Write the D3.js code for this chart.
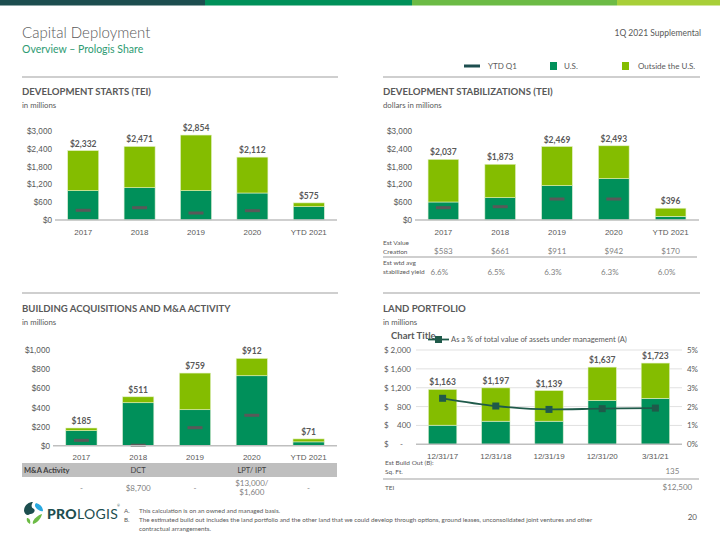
<!DOCTYPE html>
<html><head><meta charset="utf-8">
<script src="https://cdn.jsdelivr.net/npm/d3@7"></script>
<style>body{margin:0;background:#fff}svg{display:block;font-family:Lato,"Open Sans",sans-serif}</style>
</head><body><svg id="c" width="720" height="540"></svg>
<script>
// ---------- DATA ----------
const years = ["2017","2018","2019","2020","YTD 2021"];
const barTicks3000 = [0,600,1200,1800,2400,3000];
const barTickLabels3000 = ["$0","$600","$1,200","$1,800","$2,400","$3,000"];

const startsUS      = [985, 1085, 985, 907, 447];
const startsOutside = [1347, 1386, 1869, 1205, 128];
const startsTotal   = ["$2,332","$2,471","$2,854","$2,112","$575"];
const startsQ1      = [326, 413, 235, 313, null];

const stabUS      = [605, 750, 1153, 1389, 123];
const stabOutside = [1432, 1123, 1316, 1104, 273];
const stabTotal   = ["$2,037","$1,873","$2,469","$2,493","$396"];
const stabQ1      = [413, 447, 705, 705, null];
const estValue    = ["$583","$661","$911","$942","$170"];
const stabYield   = ["6.6%","6.5%","6.3%","6.3%","6.0%"];

const acqTicks = [0,200,400,600,800,1000];
const acqTickLabels = ["$0","$200","$400","$600","$800","$1,000"];
const acqUS      = [157, 449, 376, 731, 40];
const acqOutside = [28, 62, 383, 181, 31];
const acqTotal   = ["$185","$511","$759","$912","$71"];
const acqQ1      = [56, 5, 188, 318, null];
const maHeader   = ["", "DCT", "", "LPT/ IPT", ""];
const maValues   = [["-"], ["$8,700"], ["-"], ["$13,000/","$1,600"], ["-"]];

const landDates   = ["12/31/17","12/31/18","12/31/19","12/31/20","3/31/21"];
const landTicks   = [0,400,800,1200,1600,2000];
const landTickNums = ["-","400","800","1,200","1,600","2,000"];
const landPctTicks = [0,1,2,3,4,5];
const landPctLabels = ["0%","1%","2%","3%","4%","5%"];
const landUS      = [405, 490, 490, 930, 975];
const landOutside = [758, 707, 649, 707, 748];
const landTotal   = ["$1,163","$1,197","$1,139","$1,637","$1,723"];
const landPct     = [2.44, 2.03, 1.85, 1.89, 1.92];
const buildSqFt   = "135";
const buildTEI    = "$12,500";

// ---------- STYLE ----------
const C = {dark:"#1d4e4f", green:"#00915a", light:"#6cbb45", yellow:"#a8cf38",
  us:"#00905a", out:"#84bd00", q1:"#595959", text:"#595959", sub:"#7f7f7f",
  axis:"#bfbfbf", grid:"#d9d9d9", line:"#1f5a4a"};

const svg = d3.select("#c");

// header band
[[0,205,C.dark],[205,412,C.green],[412,617,C.light],[617,720,C.yellow]].forEach(s=>
  svg.append("rect").attr("x",s[0]).attr("y",0).attr("width",s[1]-s[0]).attr("height",5.5).attr("fill",s[2]));

svg.append("text").attr("x",22).attr("y",38).attr("font-size",15).attr("font-weight",300)
  .attr("fill",C.text).text("Capital Deployment");
svg.append("text").attr("x",22).attr("y",53).attr("font-size",10.5).attr("fill","#2e9b72")
  .text("Overview – Prologis Share");
svg.append("text").attr("x",701).attr("y",36).attr("font-size",8.5).attr("text-anchor","end")
  .attr("fill",C.text).text("1Q 2021 Supplemental");

// legend
const lg = svg.append("g").attr("font-size",8).attr("fill",C.text);
lg.append("rect").attr("x",464).attr("y",64.5).attr("width",16).attr("height",3).attr("fill",C.dark);
lg.append("text").attr("x",488).attr("y",69).text("YTD Q1");
lg.append("rect").attr("x",550).attr("y",62).attr("width",7).attr("height",8).attr("fill",C.us);
lg.append("text").attr("x",564).attr("y",69).text("U.S.");
lg.append("rect").attr("x",622).attr("y",62).attr("width",7).attr("height",8).attr("fill",C.out);
lg.append("text").attr("x",638).attr("y",69).text("Outside the U.S.");

// separators
[[22,338,77],[383,700,77],[22,338,293],[383,700,293]].forEach(l=>
  svg.append("line").attr("x1",l[0]).attr("x2",l[1]).attr("y1",l[2]).attr("y2",l[2])
    .attr("stroke",C.axis).attr("stroke-width",1.3));

function sectionTitle(x,y,t,s){
  svg.append("text").attr("x",x).attr("y",y).attr("font-size",9.6).attr("font-weight",700)
    .attr("fill",C.text).text(t);
  svg.append("text").attr("x",x).attr("y",y+13).attr("font-size",7.8).attr("fill",C.text).text(s);
}
sectionTitle(22,95,"DEVELOPMENT STARTS (TEI)","in millions");
sectionTitle(383,95,"DEVELOPMENT STABILIZATIONS (TEI)","dollars in millions");
sectionTitle(22,312,"BUILDING ACQUISITIONS AND M&A ACTIVITY","in millions");
sectionTitle(383,312,"LAND PORTFOLIO","in millions");

function stacked(o){
  const g = svg.append("g");
  const x = d3.scaleBand().domain(o.cats).range([o.x0,o.x1]).paddingInner(o.pad).paddingOuter(o.pad/2);
  const y = d3.scaleLinear().domain([0,o.max]).range([o.yb,o.yt]);
  if (o.grid){
    g.selectAll(".gr").data(o.ticks.slice(1)).join("line").attr("x1",o.x0).attr("x2",o.x1)
      .attr("y1",d=>y(d)).attr("y2",d=>y(d)).attr("stroke",C.grid).attr("stroke-width",0.8);
  }
  const cats = o.cats;
  g.selectAll(".us").data(cats).join("rect").attr("x",d=>x(d)).attr("width",x.bandwidth())
    .attr("y",(d,i)=>y(o.us[i])).attr("height",(d,i)=>y(0)-y(o.us[i]))
    .attr("fill",C.us).attr("stroke","#d7ecd0").attr("stroke-width",0.6);
  g.selectAll(".out").data(cats).join("rect").attr("x",d=>x(d)).attr("width",x.bandwidth())
    .attr("y",(d,i)=>y(o.us[i]+o.out[i])).attr("height",(d,i)=>y(o.us[i])-y(o.us[i]+o.out[i]))
    .attr("fill",C.out).attr("stroke","#e3f1c4").attr("stroke-width",0.6);
  if (o.q1){
    g.selectAll(".q1").data(cats.filter((d,i)=>o.q1[i]!=null)).join("rect")
      .attr("x",d=>x(d)+x.bandwidth()/2-7.5).attr("width",15)
      .attr("y",d=>y(o.q1[cats.indexOf(d)])-1.5).attr("height",3).attr("fill",C.q1);
  }
  g.append("line").attr("x1",o.x0).attr("x2",o.x1).attr("y1",y(0)).attr("y2",y(0))
    .attr("stroke",C.axis).attr("stroke-width",1.5);
  g.selectAll(".tot").data(cats).join("text").attr("x",d=>x(d)+x.bandwidth()/2)
    .attr("y",(d,i)=>y(o.us[i]+o.out[i])-4).attr("text-anchor","middle")
    .attr("font-size",8.5).attr("font-weight",700).attr("fill",C.text).text((d,i)=>o.totals[i]);
  const xa = g.append("g").attr("transform",`translate(0,${y(0)+3})`)
    .call(d3.axisBottom(x).tickSize(0).tickPadding(6));
  xa.select(".domain").remove();
  xa.selectAll("text").attr("font-size",8).attr("fill",C.text).attr("font-family",null);
  if (o.tickLabels){
    const ya = g.append("g").attr("transform",`translate(${o.x0-3},0)`)
      .call(d3.axisLeft(y).tickValues(o.ticks).tickFormat((d,i)=>o.tickLabels[i]).tickSize(0).tickPadding(0));
    ya.select(".domain").remove();
    ya.selectAll("text").attr("font-size",8.2).attr("fill",C.text).attr("font-family",null);
  }
  return {x,y,g};
}

stacked({cats:years,x0:55,x1:337,pad:0.45,yb:220,yt:130.7,max:3000,ticks:barTicks3000,
  tickLabels:barTickLabels3000,us:startsUS,out:startsOutside,q1:startsQ1,totals:startsTotal});

const st = stacked({cats:years,x0:415,x1:699,pad:0.46,yb:220,yt:130.7,max:3000,ticks:barTicks3000,
  tickLabels:barTickLabels3000,us:stabUS,out:stabOutside,q1:stabQ1,totals:stabTotal});

// stabilization table
(function(){
  const g = svg.append("g").attr("fill",C.text);
  g.append("text").attr("x",383).attr("y",245).attr("font-size",6.5).text("Est Value");
  g.append("text").attr("x",383).attr("y",253.5).attr("font-size",6.5).text("Creation");
  g.append("text").attr("x",383).attr("y",265).attr("font-size",6.5).text("Est wtd avg");
  g.append("text").attr("x",383).attr("y",274).attr("font-size",6.5).text("stabilized yield");
  g.append("line").attr("x1",383).attr("x2",697).attr("y1",257).attr("y2",257).attr("stroke",C.axis).attr("stroke-width",1.3);
  g.selectAll(".ev").data(years).join("text").attr("x",d=>st.x(d)+st.x.bandwidth()/2).attr("y",254)
    .attr("text-anchor","middle").attr("font-size",8).attr("fill",C.sub).text((d,i)=>estValue[i]);
  g.selectAll(".yl").data(years).join("text").attr("x",d=>st.x(d)+st.x.bandwidth()/2-4).attr("y",275)
    .attr("text-anchor","middle").attr("font-size",8).attr("fill",C.sub).text((d,i)=>stabYield[i]);
})();

const aq = stacked({cats:years,x0:53,x1:337,pad:0.45,yb:445.7,yt:350,max:1000,ticks:acqTicks,
  tickLabels:acqTickLabels,us:acqUS,out:acqOutside,q1:acqQ1,totals:acqTotal});

// M&A table
(function(){
  const g = svg.append("g");
  g.append("rect").attr("x",22).attr("y",463).attr("width",315).attr("height",14).attr("fill","#bfbfbf");
  g.append("text").attr("x",24).attr("y",473).attr("font-size",7.5).attr("font-weight",700).attr("fill","#404040").text("M&A Activity");
  g.selectAll(".mh").data(years).join("text").attr("x",d=>aq.x(d)+aq.x.bandwidth()/2).attr("y",473)
    .attr("text-anchor","middle").attr("font-size",7.5).attr("fill","#404040").text((d,i)=>maHeader[i]);
  years.forEach((d,i)=>{
    const lines = maValues[i];
    const cx = aq.x(d)+aq.x.bandwidth()/2;
    lines.forEach((t,j)=>{
      const yy = lines.length===1 ? 491 : 486 + j*9;
      g.append("text").attr("x",cx).attr("y",yy).attr("text-anchor","middle")
        .attr("font-size",8).attr("fill",C.sub).text(t);
    });
  });
})();

// Land portfolio
const ld = stacked({cats:landDates,x0:416,x1:682,pad:0.466,yb:444.3,yt:350,max:2000,ticks:landTicks,
  grid:true,us:landUS,out:landOutside,totals:landTotal});
(function(){
  const g = svg.append("g").attr("font-size",8).attr("fill",C.text);
  landTicks.forEach((t,i)=>{
    g.append("text").attr("x",384).attr("y",ld.y(t)+3).text("$");
    g.append("text").attr("x",t===0?403:411).attr("y",ld.y(t)+3).attr("text-anchor","end").text(landTickNums[i]);
  });
  const yr = d3.scaleLinear().domain([0,5]).range([444.3,350]);
  landPctTicks.forEach((t,i)=>{
    g.append("text").attr("x",698).attr("y",yr(t)+3).attr("text-anchor","end").text(landPctLabels[i]);
  });
  const cx = d=>ld.x(d)+ld.x.bandwidth()/2;
  const line = d3.line().x(d=>cx(d)).y((d,i)=>yr(landPct[i])).curve(d3.curveMonotoneX);
  svg.append("path").datum(landDates).attr("d",line).attr("fill","none").attr("stroke",C.line).attr("stroke-width",1.8);
  svg.selectAll(".lm").data(landDates).join("rect").attr("x",d=>cx(d)-3.5).attr("y",(d,i)=>yr(landPct[i])-3.5)
    .attr("width",7).attr("height",7).attr("fill",C.line);
  svg.append("text").attr("x",391).attr("y",339).attr("font-size",9.5).attr("font-weight",700).attr("fill",C.text).text("Chart Title");
  svg.append("line").attr("x1",428).attr("x2",449).attr("y1",339.5).attr("y2",339.5).attr("stroke",C.line).attr("stroke-width",1.8);
  svg.append("rect").attr("x",435).attr("y",336).attr("width",7).attr("height",7).attr("fill",C.line);
  svg.append("text").attr("x",451).attr("y",342).attr("font-size",7.6).attr("fill",C.text)
    .text("As a % of total value of assets under management (A)");
  const tg = svg.append("g").attr("fill",C.text);
  tg.append("text").attr("x",385).attr("y",465).attr("font-size",6.5).text("Est Build Out (B):");
  tg.append("text").attr("x",385).attr("y",474).attr("font-size",6.5).text("Sq. Ft.");
  tg.append("line").attr("x1",383).attr("x2",699).attr("y1",479).attr("y2",479).attr("stroke","#d0d0d0").attr("stroke-width",2);
  tg.append("text").attr("x",385).attr("y",490).attr("font-size",6.5).text("TEI");
  const last = landDates[landDates.length-1];
  tg.append("text").attr("x",cx(last)+17).attr("y",474).attr("text-anchor","middle").attr("font-size",8).attr("fill",C.sub).text(buildSqFt);
  tg.append("text").attr("x",cx(last)+22).attr("y",490).attr("text-anchor","middle").attr("font-size",8).attr("fill",C.sub).text(buildTEI);
})();

// footer
(function(){
  const g = svg.append("g");
  g.append("path").attr("d","M24,511 C24,505 29,502 33,502 C31,505 31,508 34,509 C36,511 33,514 30,514 C28,516 25,515 24,511 Z").attr("fill",C.dark);
  g.append("path").attr("d","M36,503 C40,504 43,507 43,511 C41,512 39,510 37,509 C35,507 34,505 36,503 Z").attr("fill","#29a9e0");
  g.append("path").attr("d","M42,514 C41,519 37,523 33,524 C32,521 35,518 38,516 C39,515 41,514 42,514 Z").attr("fill","#6cbb45");
  g.append("path").attr("d","M27,518 C29,518 31,520 30,524 C28,523 26,521 27,518 Z").attr("fill","#6cbb45");
  const t = g.append("text").attr("x",47).attr("y",519).attr("font-size",14).attr("fill",C.dark).attr("letter-spacing",0.3);
  t.append("tspan").attr("font-weight",900).text("PRO");
  t.append("tspan").attr("font-weight",400).text("LOGIS");
  g.append("text").attr("x",117).attr("y",507).attr("font-size",3.5).attr("fill",C.dark).text("®");
  const f = g.append("g").attr("font-size",6.3).attr("fill",C.text);
  f.append("text").attr("x",124).attr("y",513).text("A.");
  f.append("text").attr("x",139).attr("y",513).text("This calculation is on an owned and managed basis.");
  f.append("text").attr("x",124).attr("y",522).text("B.");
  f.append("text").attr("x",139).attr("y",522).text("The estimated build out includes the land portfolio and the other land that we could develop through options, ground leases, unconsolidated joint ventures and other");
  f.append("text").attr("x",139).attr("y",531).text("contractual arrangements.");
  g.append("text").attr("x",697).attr("y",520).attr("font-size",8).attr("text-anchor","end").attr("fill",C.text).text("20");
})();
</script></body></html>
